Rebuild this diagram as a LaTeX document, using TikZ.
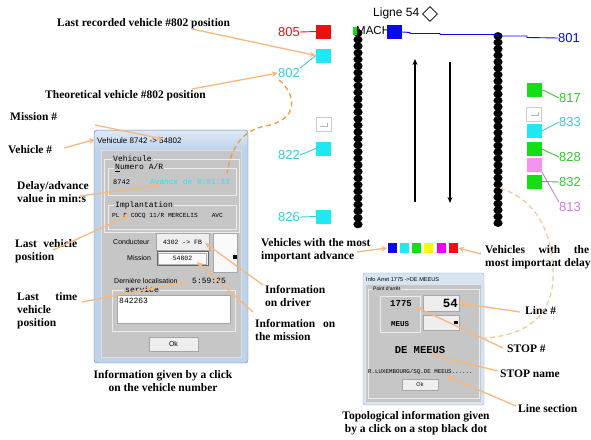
\documentclass[tikz,border=0pt]{standalone}
\usepackage{fontspec}
\setmainfont{Liberation Serif}
\setsansfont{Liberation Sans}
\setmonofont{Liberation Mono}
\usetikzlibrary{arrows.meta,shapes.geometric}

\definecolor{peach}{RGB}{247,184,126}
\definecolor{dashor}{RGB}{232,158,60}
\definecolor{lightdash}{RGB}{246,198,145}
\definecolor{vcyan}{RGB}{30,232,242}
\definecolor{tcyan}{RGB}{55,205,220}
\definecolor{vgreen}{RGB}{20,222,20}
\definecolor{tgreen}{RGB}{50,200,50}
\definecolor{vred}{RGB}{240,15,15}
\definecolor{vblue}{RGB}{10,10,235}
\definecolor{vpink}{RGB}{242,145,238}
\definecolor{tpink}{RGB}{205,125,215}
\definecolor{vyellow}{RGB}{250,250,0}
\definecolor{vmagenta}{RGB}{240,0,240}
\definecolor{aero}{RGB}{190,210,234}
\definecolor{aerotop}{RGB}{220,232,246}
\definecolor{aeroedge}{RGB}{110,130,160}
\definecolor{panel}{RGB}{198,198,198}
\definecolor{etch}{RGB}{236,236,236}
\definecolor{btn}{RGB}{238,238,238}

\tikzset{
  callout/.style={font=\bfseries\fontsize{11.5}{12.8}\selectfont, inner sep=0pt, align=left, anchor=west},
  caption/.style={font=\bfseries\fontsize{11.5}{12.8}\selectfont, inner sep=0pt, align=center},
  pointer/.style={draw=peach, line width=1.3pt, -{Stealth[length=6pt,width=5.5pt]}},
  busno/.style={font=\sffamily\fontsize{13}{13}\selectfont, inner sep=0pt},
  busbox/.style={minimum width=15pt, minimum height=14pt, inner sep=0pt},
  legendbox/.style={minimum width=9pt, minimum height=10pt, inner sep=0pt},
  etched/.style={draw=etch, line width=0.8pt},
  grouplabel/.style={font=\ttfamily\fontsize{8}{8}\selectfont, fill=panel, inner sep=1pt, anchor=west},
  monotext/.style={font=\ttfamily\fontsize{7}{7}\selectfont, inner sep=0pt},
  sanstext/.style={font=\sffamily\fontsize{7}{7}\selectfont, inner sep=0pt},
  winbtn/.style={draw=gray!70, fill=btn},
}

\begin{document}
\begin{tikzpicture}[x=1pt,y=-1pt]
\useasboundingbox (0,0) rectangle (591,439);
\fill[white] (0,0) rectangle (591,439);

% ---------------- line 54 schematic ----------------
\node[font=\sffamily\fontsize{12}{12}\selectfont, inner sep=0pt, anchor=west] (ligne) at (373,13) {Ligne 54};
\node[diamond, draw=black, thick, minimum width=15pt, minimum height=15pt, inner sep=0pt] (term) at (430,14) {};

% stop columns
\foreach \k in {0,...,29}
  \fill (358,{33+\k*6.6}) ellipse [x radius=4.6pt, y radius=3.9pt];
\foreach \k in {0,...,29}
  \fill (498,{36+\k*6.45}) ellipse [x radius=4.6pt, y radius=3.9pt];

\fill[vgreen] (353,27) rectangle (357,35);
\node[font=\sffamily\fontsize{11.5}{11.5}\selectfont, inner sep=0pt, anchor=west] (mach) at (356,31) {MACH};

% direction arrows
\coordinate (upS) at (415,202);
\coordinate (upE) at (415,59);
\coordinate (dnS) at (450,62);
\coordinate (dnE) at (450,203);
\draw[line width=1.3pt, -{Stealth[length=6pt,width=5pt]}] (upS) -- (upE);
\draw[line width=1.3pt, -{Stealth[length=6pt,width=5pt]}] (dnS) -- (dnE);

% vehicle 801 (blue) and its trace
\node[busbox, fill=vblue] (s801) at (394.5,32) {};
\node[busno, text=vblue, anchor=west] (l801) at (558,38) {801};
\draw[vblue, line width=0.9pt] (s801.east) -- (410,32.5) -- (410,33.5) -- (440,33.5) -- (440,34.5) -- (498,34.5) -- (498,36) -- (527,36) -- (527,37.5) -- (l801.west);

% left-hand vehicles
\node[busbox, fill=vred] (s805) at (323.5,31.5) {};
\node[busno, text=vred] (l805) at (289,32) {805};
\draw[vred, line width=0.9pt] (l805.east) -- (s805.west);

\node[busbox, fill=vcyan] (s802) at (323.5,55.5) {};
\node[busno, text=tcyan] (l802) at (289,73) {802};
\draw[tcyan, line width=0.9pt] (l802.north east) -- (s802.west);

\node[busbox, fill=white, draw=gray!40] (sgl) at (323.5,124.5) {};
\draw[gray!60] (320,126) -- (327,126) -- (327,123);

\node[busbox, fill=vcyan] (s822) at (323.5,148.5) {};
\node[busno, text=tcyan] (l822) at (289,155) {822};
\draw[tcyan, line width=0.9pt] (l822.east) -- (s822.west);

\node[busbox, fill=vcyan] (s826) at (323.5,216.5) {};
\node[busno, text=tcyan] (l826) at (289,217) {826};
\draw[tcyan, line width=0.9pt] (l826.east) -- (s826.west);

% right-hand vehicles
\node[busbox, fill=vgreen] (s817) at (534,89.5) {};
\node[busno, text=tgreen, anchor=west] (l817) at (559,98) {817};
\draw[tgreen, line width=0.9pt] (s817.east) -- (l817.west);

\node[busbox, fill=white, draw=gray!40] (sgr) at (534,114) {};
\draw[gray!60] (531,115) -- (538,115) -- (538,112);

\node[busbox, fill=vcyan] (s833) at (534,131) {};
\node[busno, text=tcyan, anchor=west] (l833) at (559,122) {833};
\draw[tcyan, line width=0.9pt] (s833.east) -- (l833.west);

\node[busbox, fill=vgreen] (s828) at (534,149) {};
\node[busno, text=tgreen, anchor=west] (l828) at (559,157) {828};
\draw[tgreen, line width=0.9pt] (s828.east) -- (l828.west);

\node[busbox, fill=vpink] (s813) at (534,164.5) {};
\node[busno, text=tpink, anchor=west] (l813) at (559,207) {813};
\draw[tpink, line width=0.9pt] (s813.south east) -- (l813.north west);

\node[busbox, fill=vgreen] (s832) at (534,181.5) {};
\node[busno, text=tgreen, anchor=west] (l832) at (559,182) {832};
\draw[tgreen, line width=0.9pt] (s832.east) -- (l832.west);

% ---------------- colour legend ----------------
\node[legendbox, fill=vblue]    (c1) at (392,248) {};
\node[legendbox, fill=vcyan]    (c2) at (404.3,248) {};
\node[legendbox, fill=vgreen]   (c3) at (416.6,248) {};
\node[legendbox, fill=vyellow]  (c4) at (428.9,248) {};
\node[legendbox, fill=vmagenta] (c5) at (441.2,248) {};
\node[legendbox, fill=vred]     (c6) at (453.5,248) {};

% ---------------- vehicle window ----------------
\draw[aeroedge, fill=aero, rounded corners=3pt] (94,130) rectangle (248,363);
\shade[top color=aerotop, bottom color=aero, rounded corners=2pt] (95,131) rectangle (247,150);
\node[sanstext, font=\sffamily\fontsize{8}{8}\selectfont, anchor=west] (vtitle) at (97,141) {Vehicule 8742 -> 54802};
\fill[panel] (101,150) rectangle (241,357);
\draw[white!75!aeroedge] (101,150) rectangle (241,357);

% group "Vehicule"
\draw[etched] (104,159) rectangle (239,232);
\node[grouplabel] (gveh) at (112,159) {Vehicule};
\draw[etched] (108,168) rectangle (236,195);
\node[grouplabel] (gnum) at (114,168) {\underline{N}umero A/R};
\node[monotext, anchor=west] (vnum) at (113,182) {8742};
\node[monotext, font=\ttfamily\fontsize{7.8}{7.8}\selectfont, text=vcyan, anchor=west] (vadv) at (150,182) {Avance de 0:01:33};

% group "Implantation"
\draw[etched] (108,205) rectangle (236,229);
\node[grouplabel] (gimp) at (114,205) {Implantation};
\node[monotext, font=\ttfamily\fontsize{6.2}{6.2}\selectfont, anchor=west] (vimp) at (112,216) {PL F COCQ 11/R MERCELIS\hspace{14pt}AVC};

% driver and mission
\node[sanstext, anchor=west] (lcond) at (113,242) {Conducteur};
\node[winbtn, minimum width=53pt, minimum height=17pt, inner sep=0pt] (bcond) at (182.5,241.5) {};
\node[monotext, font=\ttfamily\fontsize{6.5}{6.5}\selectfont] (vcond) at (182.5,242) {4302 -> FB};
\node[winbtn, fill=white!95!gray, minimum width=24pt, minimum height=39pt, inner sep=0pt] (bside) at (225,252.5) {};
\fill[black] (233,255) rectangle (237,259);
\node[sanstext, anchor=west] (lmis) at (127,258) {Mission};
\draw[gray!80!black, fill=btn] (157,251.5) rectangle (208,265.5);
\node[draw=gray!60, fill=white!96!gray, minimum width=48pt, minimum height=11pt, inner sep=0pt] (bmis) at (182.5,258.5) {};
\node[monotext, font=\ttfamily\fontsize{6.5}{6.5}\selectfont] (vmis) at (182.5,258.5) {54802};

\node[sanstext, anchor=west] (lloc) at (114,281) {Dernière localisation};
\node[monotext, font=\ttfamily\fontsize{8}{8}\selectfont, anchor=west] (vloc) at (192,281) {5:59:25};

% group "service"
\draw[etched] (112,290) rectangle (235,331);
\node[grouplabel] (gserv) at (124,290) {service};
\draw[gray!70, fill=white] (117,295) rectangle (230,323);
\node[monotext, font=\ttfamily\fontsize{8}{8}\selectfont, anchor=north west] (vserv) at (119,298) {842263};

\node[winbtn, minimum width=49pt, minimum height=14pt, inner sep=0pt, font=\sffamily\fontsize{7}{7}\selectfont] (bok) at (173.5,344) {Ok};

% ---------------- stop window ----------------
\draw[aeroedge!70, fill=aero!60, rounded corners=2pt] (363,273) rectangle (484,405);
\node[sanstext, font=\sffamily\fontsize{5.6}{5.6}\selectfont, anchor=west] (stitle) at (366,279) {Info Arret 1775 ->DE MEEUS};
\fill[panel] (366,285) rectangle (481,402);
\draw[etched] (368,289) rectangle (479,398);
\node[grouplabel, font=\sffamily\fontsize{5}{5}\selectfont] (gpt) at (372,289) {Point d'arrêt};
\draw[etch, line width=0.8pt] (380,296) rectangle (420,332);
\node[monotext, font=\ttfamily\bfseries\fontsize{9}{9}\selectfont] (n1775) at (401,304) {1775};
\node[monotext, font=\ttfamily\bfseries\fontsize{7.5}{7.5}\selectfont] (nmeus) at (400,324) {MEUS};
\node[winbtn, minimum width=36pt, minimum height=16pt, inner sep=0pt] (f54) at (441,303) {};
\node[monotext, font=\ttfamily\bfseries\fontsize{12.5}{12.5}\selectfont, anchor=east] (n54) at (458,303.5) {54};
\node[winbtn, minimum width=36pt, minimum height=15pt, inner sep=0pt] (fsq) at (441,322.5) {};
\fill[black] (454,320.5) rectangle (457.5,324);
\node[monotext, font=\ttfamily\bfseries\fontsize{10.5}{10.5}\selectfont] (nmeeus) at (420,350) {DE MEEUS};
\node[monotext, font=\ttfamily\fontsize{5.8}{5.8}\selectfont, anchor=west] (nsect) at (368,372) {R.LUXEMBOURG/SQ.DE MEEUS......};
\node[winbtn, minimum width=36pt, minimum height=11pt, inner sep=0pt, font=\sffamily\fontsize{5.5}{5.5}\selectfont] (sok) at (420,384.5) {Ok};

% ---------------- callout texts ----------------
\node[callout] (tlastrec) at (57,24) {Last recorded vehicle \#802 position};
\node[callout] (ttheo) at (45,96) {Theoretical vehicle \#802 position};
\node[callout] (tmission) at (10,117) {Mission \#};
\node[callout] (tvehicle) at (8,150) {Vehicle \#};
\node[callout] (tdelay) at (17,192) {Delay/advance\\value in min:s};
\node[callout] (tlastpos) at (15,251) {\makebox[62pt][s]{Last vehicle}\\position};
\node[callout] (tlasttime) at (17,311) {\makebox[60pt][s]{Last time}\\vehicle\\position};
\node[callout] (tdriver) at (265,296) {Information\\on driver};
\node[callout] (tonmis) at (255,330) {\makebox[80pt][s]{Information on}\\the mission};
\node[callout] (tadv) at (261,250) {Vehicles with the most\\important advance};
\node[callout] (tdel) at (485,257) {\makebox[104pt][s]{Vehicles with the}\\most important delay};
\node[callout] (tline) at (525,311) {Line \#};
\node[callout] (tstopno) at (507,349) {STOP \#};
\node[callout] (tstopname) at (500,374) {STOP name};
\node[callout] (tsection) at (518,409) {Line section};
\node[caption] (cap1) at (163,381) {Information given by a click\\on the vehicle number};
\node[caption] (cap2) at (416,423) {Topological information given\\by a click on a stop black dot};

% ---------------- pointers ----------------
\coordinate (pLastrec) at (192,29);
\coordinate (pTheo) at (192,89);
\coordinate (pMis) at (95,125);
\coordinate (tMis) at (163,139);
\coordinate (pVeh) at (64,148);
\coordinate (tVeh) at (95,139.5);
\coordinate (pDelay) at (80,196);
\coordinate (tDelay) at (160,185);
\coordinate (pLastpos) at (53,250);
\coordinate (tLastpos) at (130,215);
\coordinate (pLasttime) at (82,302);
\coordinate (tLasttime) at (185,282);
\coordinate (pDriver) at (263,285);
\coordinate (tDriver) at (205,243);
\coordinate (pOnmis) at (253,312);
\coordinate (tOnmis) at (197,262);
\coordinate (pAdv) at (357,252);
\coordinate (pDel) at (481,254);
\coordinate (pLine) at (520,312);
\coordinate (pStopno) at (503,348);
\coordinate (tStopno) at (416,307);
\coordinate (pStopname) at (498,371);
\coordinate (tStopname) at (433,355);
\coordinate (pSection) at (516,406);
\coordinate (tSection) at (446,376);

\draw[pointer] (pLastrec) -- (s802.west);
\draw[pointer] (pTheo) -- (l802.west);
\draw[pointer] (pMis) -- (tMis);
\draw[pointer] (pVeh) -- (tVeh);
\draw[pointer] (pDelay) -- (tDelay);
\draw[pointer] (pLastpos) -- (tLastpos);
\draw[pointer] (pLasttime) -- (tLasttime);
\draw[pointer] (pDriver) -- (tDriver);
\draw[pointer] (pOnmis) -- (tOnmis);
\draw[pointer] (pAdv) -- (c1.west);
\draw[pointer] (pDel) -- (c6.east);
\draw[pointer] (pLine) -- (f54.east);
\draw[pointer] (pStopno) -- (tStopno);
\draw[pointer] (pStopname) -- (tStopname);
\draw[pointer] (pSection) -- (tSection);

% dashed links between map and windows
\coordinate (dL0) at (279,80);
\coordinate (dL1) at (227,173);
\draw[dashor, line width=1.3pt, dash pattern=on 5pt off 3.5pt]
  (dL0) .. controls (296,94) and (300,120) .. (265,126)
        .. controls (240,131) and (231,150) .. (dL1);
\coordinate (dR0) at (500,188);
\coordinate (dR1) at (483,338);
\draw[lightdash, line width=1.2pt, dash pattern=on 5pt off 3.5pt]
  (dR0) .. controls (535,200) and (551,228) .. (553,270)
        .. controls (555,312) and (530,336) .. (dR1);

\end{tikzpicture}
\end{document}
